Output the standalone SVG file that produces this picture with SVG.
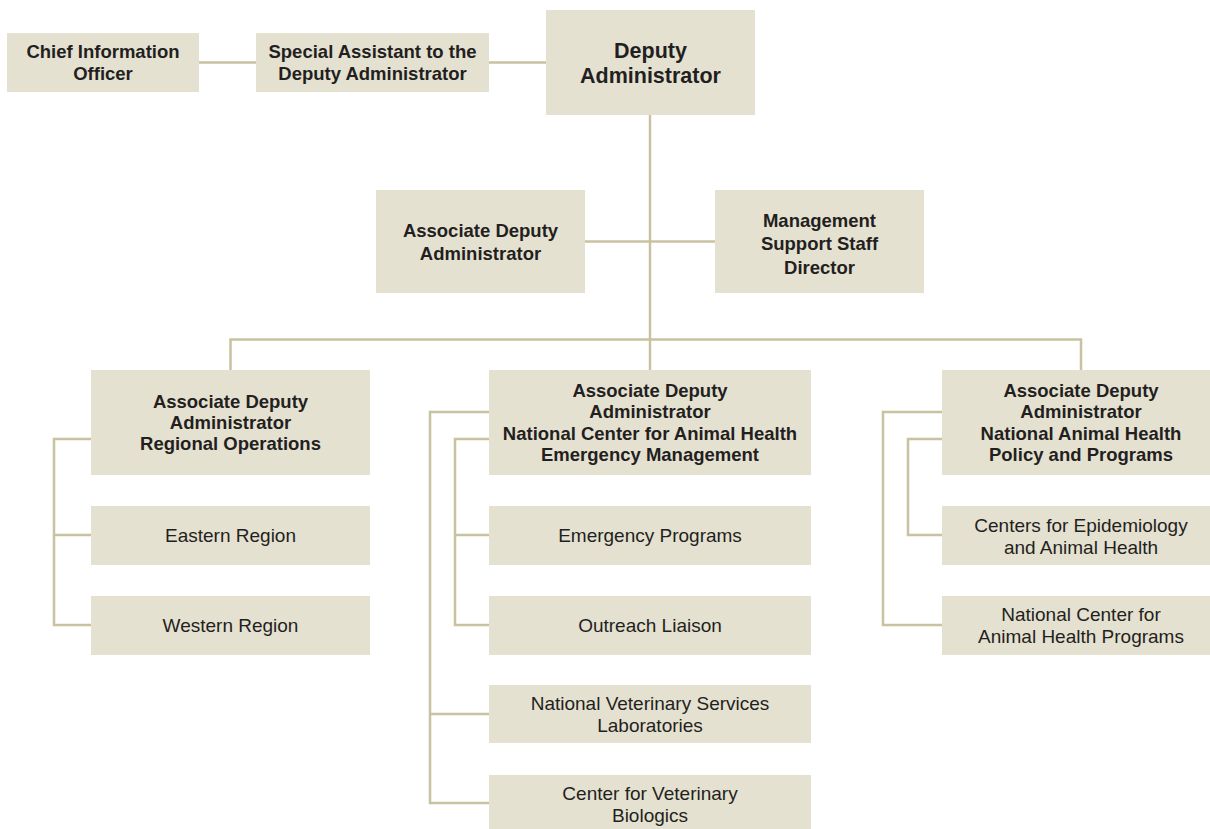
<svg xmlns="http://www.w3.org/2000/svg" width="1210" height="829" viewBox="0 0 1210 829">
<style>
.box{fill:#e5e1d1}
.ln{fill:none;stroke:#c8c2a0;stroke-width:2.5}
text{font-family:"Liberation Sans",Arial,Helvetica,sans-serif;fill:#231f20;text-anchor:middle}
.b{font-weight:bold;font-size:18.5px}
.r{font-size:19px}
.big{font-weight:bold;font-size:21.5px}
</style>
<rect width="1210" height="829" fill="#ffffff"/>
<g id="connectors">
<path class="ln" d="M199,62.5 H256 M489,62.5 H546"/>
<path class="ln" d="M650,115 V370"/>
<path class="ln" d="M585,241.5 H715"/>
<path class="ln" d="M230.5,370 V339.5 H1081 V370"/>
<path class="ln" d="M91,439 H54 V625 H91 M54,535 H91"/>
<path class="ln" d="M489,412 H430 V803 H489 M430,714 H489"/>
<path class="ln" d="M489,439 H455 V625 H489 M455,535 H489"/>
<path class="ln" d="M942,412 H883 V625 H942"/>
<path class="ln" d="M942,439 H908 V535 H942"/>
</g>
<g id="cio">
<rect class="box" x="7" y="33" width="192" height="59"/>
<text class="b" x="103" y="58">Chief Information</text>
<text class="b" x="103" y="80">Officer</text>
</g>
<g id="special-assistant">
<rect class="box" x="256" y="33" width="233" height="59"/>
<text class="b" x="372.5" y="58">Special Assistant to the</text>
<text class="b" x="372.5" y="80">Deputy Administrator</text>
</g>
<g id="deputy-administrator">
<rect class="box" x="546" y="10" width="209" height="105"/>
<text class="big" x="650.5" y="57.7">Deputy</text>
<text class="big" x="650.5" y="83.4">Administrator</text>
</g>
<g id="associate-deputy">
<rect class="box" x="376" y="190" width="209" height="103"/>
<text class="b" x="480.5" y="236.6">Associate Deputy</text>
<text class="b" x="480.5" y="259.6">Administrator</text>
</g>
<g id="management-support">
<rect class="box" x="715" y="190" width="209" height="103"/>
<text class="b" x="819.5" y="226.6">Management</text>
<text class="b" x="819.5" y="249.6">Support Staff</text>
<text class="b" x="819.5" y="273.6">Director</text>
</g>
<g id="ada-regional">
<rect class="box" x="91" y="370" width="279" height="105"/>
<text class="b" x="230.5" y="407.8">Associate Deputy</text>
<text class="b" x="230.5" y="429.1">Administrator</text>
<text class="b" x="230.5" y="450.4">Regional Operations</text>
</g>
<g id="eastern-region">
<rect class="box" x="91" y="506" width="279" height="59"/>
<text class="r" x="230.5" y="542.3">Eastern Region</text>
</g>
<g id="western-region">
<rect class="box" x="91" y="596" width="279" height="59"/>
<text class="r" x="230.5" y="632.3">Western Region</text>
</g>
<g id="ada-ncahem">
<rect class="box" x="489" y="370" width="322" height="105"/>
<text class="b" x="650" y="397.1">Associate Deputy</text>
<text class="b" x="650" y="418.4">Administrator</text>
<text class="b" x="650" y="439.8">National Center for Animal Health</text>
<text class="b" x="650" y="461.1">Emergency Management</text>
</g>
<g id="emergency-programs">
<rect class="box" x="489" y="506" width="322" height="59"/>
<text class="r" x="650" y="542.3">Emergency Programs</text>
</g>
<g id="outreach-liaison">
<rect class="box" x="489" y="596" width="322" height="59"/>
<text class="r" x="650" y="632.3">Outreach Liaison</text>
</g>
<g id="nvsl">
<rect class="box" x="489" y="685" width="322" height="58"/>
<text class="r" x="650" y="709.8">National Veterinary Services</text>
<text class="r" x="650" y="731.8">Laboratories</text>
</g>
<g id="cvb">
<rect class="box" x="489" y="775" width="322" height="58"/>
<text class="r" x="650" y="799.8">Center for Veterinary</text>
<text class="r" x="650" y="821.8">Biologics</text>
</g>
<g id="ada-nahpp">
<rect class="box" x="942" y="370" width="278" height="105"/>
<text class="b" x="1081" y="397.1">Associate Deputy</text>
<text class="b" x="1081" y="418.4">Administrator</text>
<text class="b" x="1081" y="439.8">National Animal Health</text>
<text class="b" x="1081" y="461.1">Policy and Programs</text>
</g>
<g id="ceah">
<rect class="box" x="942" y="506" width="278" height="59"/>
<text class="r" x="1081" y="531.5">Centers for Epidemiology</text>
<text class="r" x="1081" y="553.5">and Animal Health</text>
</g>
<g id="ncahp">
<rect class="box" x="942" y="596" width="278" height="59"/>
<text class="r" x="1081" y="621.3">National Center for</text>
<text class="r" x="1081" y="643.3">Animal Health Programs</text>
</g>
</svg>
